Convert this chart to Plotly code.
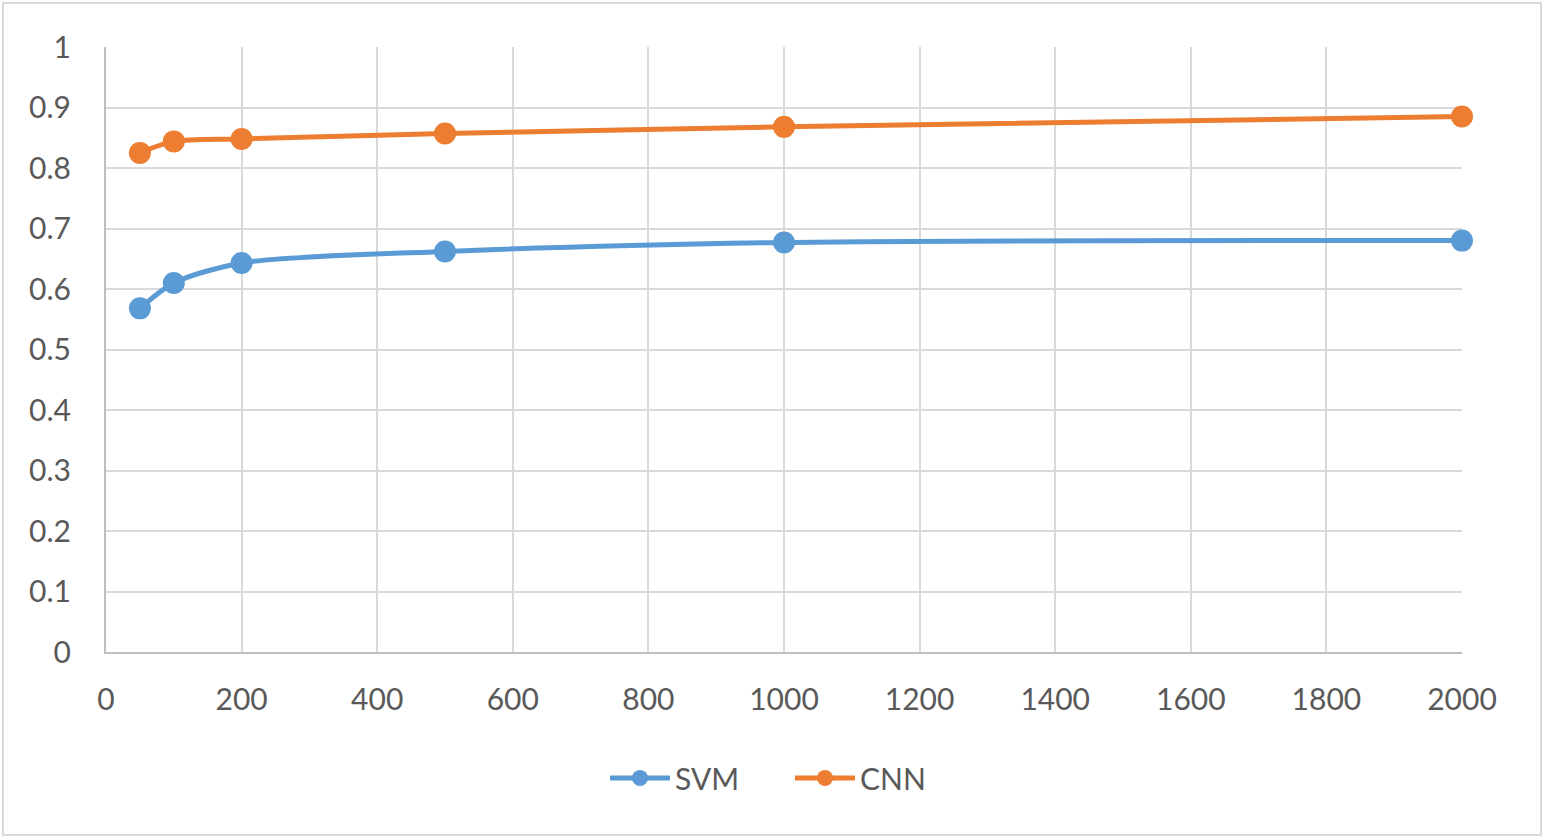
import plotly.graph_objects as go

x_vals = [50, 100, 200, 500, 1000, 2000]
svm = [0.568, 0.610, 0.643, 0.662, 0.677, 0.680]
cnn = [0.825, 0.844, 0.848, 0.857, 0.868, 0.885]

W, H = 1546, 840
L, R, T, B = 106, 84, 47, 188
pw, ph = W - L - R, H - T - B

font = dict(family="Lato, 'Open Sans', sans-serif", size=30, color="#595959")

fig = go.Figure()
fig.add_trace(go.Scatter(x=x_vals, y=svm, name="SVM", mode="lines+markers", cliponaxis=False,
                         line=dict(color="#5B9BD5", width=5, shape="spline", smoothing=0.8),
                         marker=dict(size=22, color="#5B9BD5")))
fig.add_trace(go.Scatter(x=x_vals, y=cnn, name="CNN", mode="lines+markers", cliponaxis=False,
                         line=dict(color="#ED7D31", width=5, shape="spline", smoothing=0.8),
                         marker=dict(size=22, color="#ED7D31")))

fig.update_layout(
    width=W, height=H,
    margin=dict(l=L, r=R, t=T, b=B),
    paper_bgcolor="white", plot_bgcolor="white",
    font=font,
    showlegend=True,
    legend=dict(orientation="h", x=0.5 + 6 / pw, xanchor="center", y=(H - 778 - B) / ph,
                yanchor="middle", font=font, itemwidth=60, traceorder="normal",
                entrywidth=110, entrywidthmode="pixels"),
    xaxis=dict(range=[0, 2000], dtick=200, tick0=0, showgrid=True, gridcolor="#d9d9d9",
               gridwidth=2, zeroline=False, showline=True, linecolor="#bfbfbf", linewidth=2,
               ticks="", ticklabelstandoff=20, tickfont=font),
    yaxis=dict(range=[0, 1], dtick=0.1, tick0=0, showgrid=True, gridcolor="#d9d9d9",
               gridwidth=2, zeroline=False, showline=True, linecolor="#bfbfbf", linewidth=2,
               ticks="", ticklabelstandoff=27, tickfont=font,
               tickvals=[0, 0.1, 0.2, 0.3, 0.4, 0.5, 0.6, 0.7, 0.8, 0.9, 1],
               ticktext=["0", "0.1", "0.2", "0.3", "0.4", "0.5", "0.6", "0.7", "0.8", "0.9", "1"]),
    shapes=[dict(type="rect", xref="paper", yref="paper",
                 x0=(3 - L) / pw, x1=(1541 - L) / pw,
                 y0=(H - B - 835) / ph, y1=(H - B - 3) / ph,
                 line=dict(color="#d9d9d9", width=2), layer="below")],
)

fig.write_html("out.html")
